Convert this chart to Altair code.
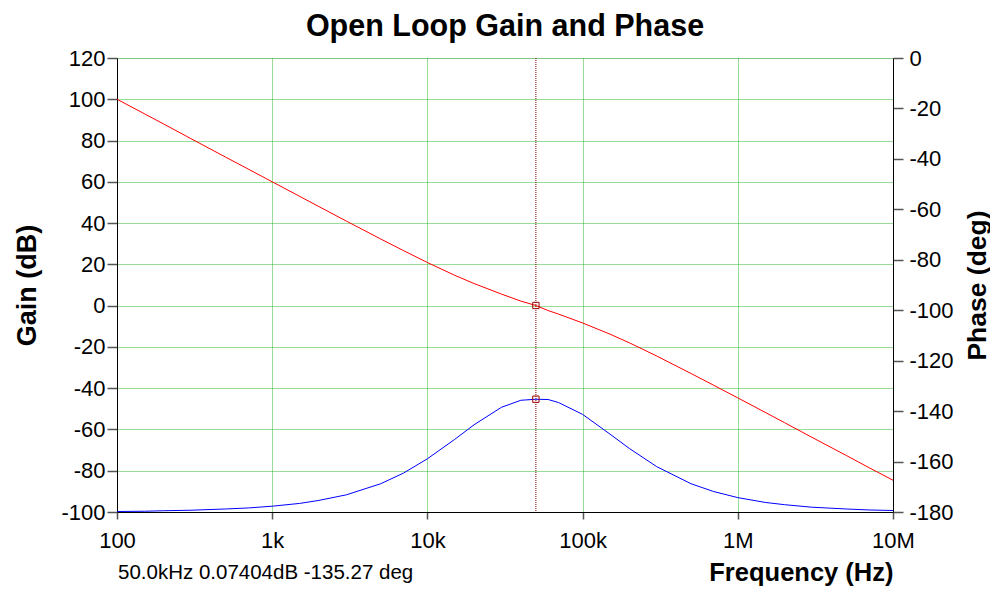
import json
import altair as alt
import pandas as pd

# ---- data ----
freq = [100, 150, 200, 300, 500, 700, 1e3, 1.5e3, 2e3, 3e3, 5e3, 7e3, 1e4, 1.5e4, 2e4,
        3e4, 4e4, 5e4, 6e4, 7e4, 1e5, 1.5e5, 2e5, 3e5, 5e5, 7e5, 1e6, 1.5e6, 2e6, 3e6,
        5e6, 7e6, 1e7]
gain_db = [100, 93, 88, 80.9, 72, 66.2, 60, 53, 48, 41, 32.3, 26.7, 20.9, 14.7, 10.7,
           5.6, 2.2, 0.07, -2.4, -4.1, -8.4, -13.8, -18, -24.4, -32.9, -38.6, -44.7,
           -51.7, -56.7, -63.8, -72.6, -78.5, -84.6]
phase_deg = [-179.8, -179.7, -179.5, -179.3, -178.8, -178.4, -177.7, -176.6, -175.4,
             -173.2, -168.8, -164.6, -158.9, -151.2, -145.4, -138.5, -135.7, -135.3,
             -135.4, -136.6, -141.3, -149.1, -154.8, -162, -168.8, -171.9, -174.3,
             -176.2, -177.1, -178.1, -178.8, -179.2, -179.4]

x_ticks = [100, 1e3, 1e4, 1e5, 1e6, 1e7]
x_tick_labels = ["100", "1k", "10k", "100k", "1M", "10M"]
gain_ticks = [-100, -80, -60, -40, -20, 0, 20, 40, 60, 80, 100, 120]
phase_ticks = [-180, -160, -140, -120, -100, -80, -60, -40, -20, 0]

cursor_freq = [50000]
cursor_gain = [0.07404]
cursor_phase = [-135.27]
readout = ["50.0kHz 0.07404dB -135.27 deg"]
title_text = ["Open Loop Gain and Phase"]

curve = pd.DataFrame({"freq": freq, "gain": gain_db, "phase": phase_deg})
cursor = pd.DataFrame({"freq": cursor_freq, "gain": cursor_gain,
                       "phase": cursor_phase, "readout": readout,
                       "title": title_text})

SANS = "Liberation Sans, Arial, sans-serif"
GRID = "#00a800"
TICK = "#555555"

W, H = 776, 454

label_expr = json.dumps(x_tick_labels) + "[round(log(datum.value)/LN10)-2]"
num_expr = "toString(datum.value)"

x_enc = alt.X(
    "freq:Q",
    scale=alt.Scale(type="log", domain=[100, 1e7], nice=False),
    axis=alt.Axis(
        values=x_ticks, labelExpr=label_expr, grid=True, gridColor=GRID,
        gridDash=[1, 1], gridWidth=1, gridOpacity=0.8, tickSize=7, tickColor=TICK,
        tickWidth=1.5, domainColor="black", domainWidth=1, labelFont=SANS,
        labelFontSize=22, labelColor="black", labelPadding=11, labelFlush=False,
        labelOverlap=False,
        title="Frequency (Hz)", titleFont=SANS, titleFontWeight="bold",
        titleFontSize=25.5, titleColor="black", titleX=W, titleY=68,
        titleAlign="right", titleAnchor="end", titleBaseline="alphabetic",
    ),
)

gain_scale = alt.Scale(domain=[-100, 120], nice=False, zero=False)
phase_scale = alt.Scale(domain=[-180, 0], nice=False, zero=False)

gain_axis = alt.Axis(
    values=gain_ticks, labelExpr=num_expr, grid=True, gridColor=GRID,
    gridDash=[1, 1], gridWidth=1, gridOpacity=0.8,
    tickSize=10, tickColor=TICK, tickWidth=1.5, domainColor="black", domainWidth=1,
    labelFont=SANS, labelFontSize=22, labelColor="black", labelPadding=2,
    labelFlush=False, labelOverlap=False,
    title="Gain (dB)", titleFont=SANS, titleFontWeight="bold", titleFontSize=27,
    titleColor="black", titleAngle=270, titleX=-82, titleY=H / 2,
    titleAlign="center", titleBaseline="alphabetic",
)
phase_axis = alt.Axis(
    orient="right", values=phase_ticks, labelExpr=num_expr, grid=False, tickSize=10,
    tickColor=TICK, tickWidth=1.5, domainColor="black", domainWidth=1,
    labelFont=SANS, labelFontSize=22, labelColor="black", labelPadding=6,
    labelFlush=False, labelOverlap=False,
    title="Phase (deg)", titleFont=SANS, titleFontWeight="bold", titleFontSize=26.5,
    titleColor="black", titleAngle=270, titleX=92, titleY=H / 2,
    titleAlign="center", titleBaseline="alphabetic",
)

gain_line = alt.Chart(curve).mark_line(color="#ff0000", strokeWidth=1).encode(
    x=x_enc, y=alt.Y("gain:Q", scale=gain_scale, axis=gain_axis)
)
gain_marker = alt.Chart(cursor).mark_point(
    shape="square", filled=False, size=40, color="#a00000", strokeWidth=1, opacity=1
).encode(x=x_enc, y=alt.Y("gain:Q", scale=gain_scale, axis=gain_axis))
cursor_rule = alt.Chart(cursor).mark_rule(
    color="#800000", strokeDash=[1, 1], strokeWidth=1
).encode(x=x_enc)
readout_text = alt.Chart(cursor).mark_text(
    align="left", baseline="middle", font=SANS, fontSize=20.5, color="black"
).encode(x=alt.value(1), y=alt.value(H + 61), text="readout:N")
title_mark = alt.Chart(cursor).mark_text(
    align="center", baseline="alphabetic", font=SANS, fontSize=30.5,
    fontWeight="bold", color="black"
).encode(x=alt.value(W / 2), y=alt.value(-22), text="title:N")

phase_line = alt.Chart(curve).mark_line(color="#0000ff", strokeWidth=1).encode(
    x=x_enc, y=alt.Y("phase:Q", scale=phase_scale, axis=phase_axis)
)
phase_marker = alt.Chart(cursor).mark_point(
    shape="square", filled=False, size=40, color="#a00000", strokeWidth=1, opacity=1
).encode(x=x_enc, y=alt.Y("phase:Q", scale=phase_scale, axis=phase_axis))

left = alt.layer(gain_line, cursor_rule, readout_text, title_mark, gain_marker)
right = alt.layer(phase_line, phase_marker)

chart = (
    alt.layer(left, right)
    .resolve_scale(y="independent")
    .properties(
        width=W, height=H,
        autosize=alt.AutoSizeParams(type="none"),
        padding={"left": 109, "top": 50, "right": 97, "bottom": 74},
    )
    .configure_view(strokeWidth=0)
    .configure(background="white")
)

chart.save("out.html", embed_options={"renderer": "svg", "actions": False})
